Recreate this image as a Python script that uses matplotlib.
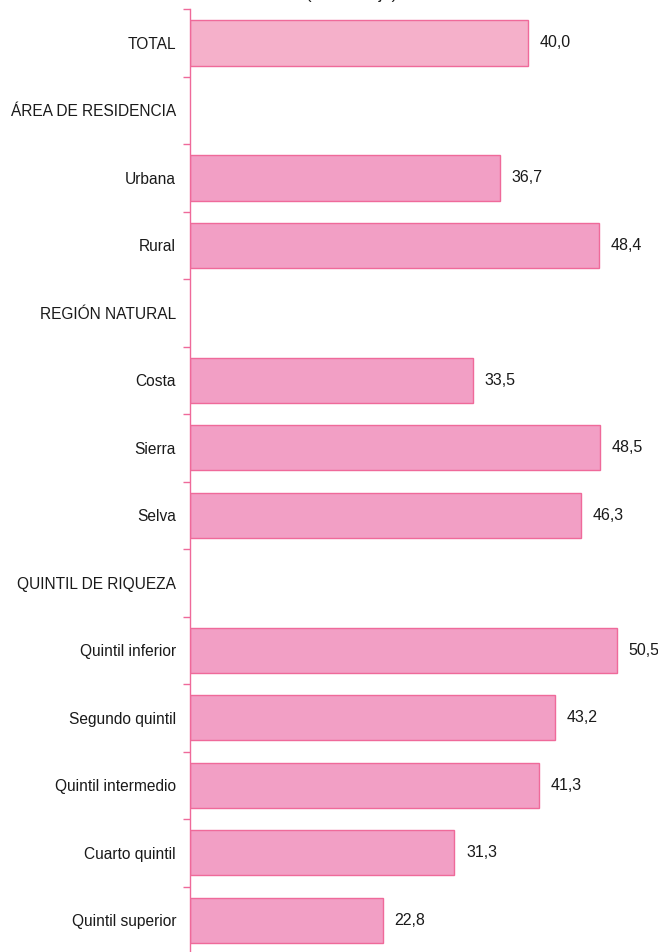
import matplotlib
matplotlib.use("Agg")
import matplotlib.pyplot as plt
import numpy as np

categories = ["TOTAL", "ÁREA DE RESIDENCIA", "Urbana", "Rural", "REGIÓN NATURAL",
              "Costa", "Sierra", "Selva", "QUINTIL DE RIQUEZA", "Quintil inferior",
              "Segundo quintil", "Quintil intermedio", "Cuarto quintil", "Quintil superior"]
values = [40.0, None, 36.7, 48.4, None, 33.5, 48.5, 46.3, None, 50.5, 43.2, 41.3, 31.3, 22.8]
subtitle = "(Porcentaje)"

plt.rcParams['font.family'] = ["Liberation Sans", "DejaVu Sans"]

fig = plt.figure(figsize=(6.58, 9.52), dpi=100)
ax = fig.add_axes([190/658, -2/952, 1 - 190/658 - 0.005, (954 - 9.25)/952])

pink_edge = "#EF6A9A"
n = len(categories)
ys = np.arange(n)
for i, (c, v) in enumerate(zip(categories, values)):
    if v is None:
        continue
    color = "#F5B0CA" if i == 0 else "#F29FC5"
    ax.barh(i, v, height=0.67, color=color, edgecolor=pink_edge, linewidth=1.0)
    ax.text(v + 1.4, i, f"{v:.1f}".replace(".", ","), va="center", ha="left",
            fontsize=11.5, color="#1a1a1a")

ax.set_ylim(n - 0.5, -0.5)
ax.set_xlim(0, 55)
ax.set_yticks(np.arange(-0.5, n, 1.0))
ax.set_yticklabels([])
ax.set_yticks(ys, minor=True)
ax.set_yticklabels(categories, minor=True, fontsize=11.2, color="#1a1a1a")
ax.tick_params(axis="y", which="major", length=5, color=pink_edge, width=1.0, direction="out")
ax.tick_params(axis="y", which="minor", length=0, pad=10)
ax.set_xticks([])
for s in ["top", "right", "bottom"]:
    ax.spines[s].set_visible(False)
ax.spines["left"].set_color(pink_edge)
ax.spines["left"].set_linewidth(1.0)

fig.text(352/658, 1 + 1.5/952, subtitle, ha="center", va="baseline", fontsize=12, color="#1a1a1a")

fig.savefig("out.png", dpi=100)
